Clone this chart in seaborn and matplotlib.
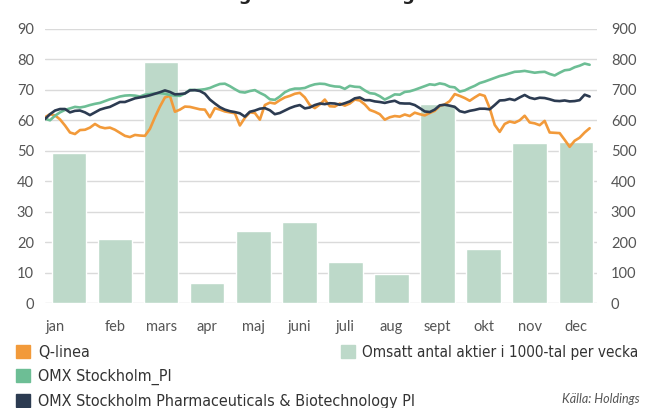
import numpy as np
import matplotlib.pyplot as plt
import seaborn as sns
from matplotlib.patches import Patch

# months and weekly turnover (1000-tal aktier)
months = ['jan', 'feb', 'mars', 'apr', 'maj', 'juni', 'juli', 'aug', 'sept', 'okt', 'nov', 'dec']
volume = [492, 211, 792, 68, 237, 268, 135, 95, 652, 178, 526, 530]

# index series, sampled evenly across the year (left axis)
q_linea = [61.0, 62.0, 61.6, 60.3, 58.3, 56.0, 55.5, 56.8, 56.9, 57.6,
           58.8, 57.8, 57.4, 57.6, 56.9, 55.9, 54.9, 54.5, 55.2, 55.0,
           54.9, 57.2, 61.0, 64.5, 67.5, 68.0, 62.8, 63.5, 64.5, 64.4,
           64.0, 63.6, 63.5, 61.0, 64.0, 63.5, 62.9, 62.6, 62.3, 58.3,
           60.8, 62.6, 62.4, 60.2, 65.0, 65.8, 65.5, 66.6, 67.5, 68.0,
           68.7, 69.0, 67.5, 65.0, 64.0, 65.2, 66.8, 64.6, 64.5, 65.5,
           64.8, 65.5, 66.8, 66.5, 65.2, 63.4, 62.8, 62.0, 60.2, 61.0,
           61.4, 61.2, 61.9, 61.4, 62.5, 62.0, 61.6, 62.4, 63.1, 64.7,
           65.2, 66.3, 68.6, 68.0, 67.3, 66.4, 67.5, 68.5, 68.0, 64.0,
           58.5, 56.2, 58.8, 59.6, 59.2, 60.0, 61.5, 59.3, 59.0, 58.4,
           59.8, 56.0, 55.9, 55.8, 53.6, 51.3, 53.3, 54.3, 56.0, 57.4]

omx_pi = [60.5, 60.0, 61.5, 62.6, 63.4, 63.9, 64.4, 64.2, 64.5, 65.0,
          65.4, 65.7, 66.3, 66.9, 67.3, 67.8, 68.1, 68.2, 68.1, 67.8,
          68.4, 68.6, 68.8, 68.9, 68.7, 68.3, 68.1, 68.0, 68.8, 70.0,
          69.9, 70.0, 70.2, 70.6, 71.3, 71.9, 72.0, 71.2, 70.2, 69.3,
          69.1, 69.6, 69.9, 69.0, 68.2, 66.9, 66.7, 67.8, 69.2, 70.0,
          70.4, 70.4, 70.6, 71.3, 71.8, 72.0, 71.9, 71.4, 71.1, 71.0,
          70.3, 71.3, 71.0, 70.9, 69.8, 68.9, 68.7, 67.9, 66.8, 67.6,
          68.5, 68.4, 69.3, 69.5, 70.0, 70.6, 71.2, 71.8, 71.6, 72.1,
          71.8, 71.0, 70.8, 69.4, 69.8, 70.6, 71.3, 72.2, 72.7, 73.3,
          73.9, 74.5, 74.9, 75.4, 75.9, 76.0, 76.2, 75.9, 75.6, 75.8,
          75.9, 75.2, 74.7, 75.6, 76.4, 76.6, 77.4, 77.9, 78.6, 78.2]

omx_pharma = [60.4, 62.0, 63.2, 63.7, 63.7, 62.6, 63.1, 63.2, 62.6, 61.7,
              62.6, 63.5, 64.0, 64.4, 65.2, 66.0, 66.0, 66.6, 67.2, 67.5,
              67.8, 68.2, 68.7, 69.2, 69.8, 69.3, 68.5, 68.6, 68.8, 69.8,
              69.9, 69.6, 68.7, 66.8, 65.5, 64.3, 63.5, 63.0, 62.7, 62.3,
              61.2, 62.8, 63.2, 63.8, 64.0, 63.3, 62.0, 62.4, 63.2, 64.0,
              64.6, 65.0, 63.9, 64.2, 65.0, 65.5, 65.3, 65.6, 65.5, 65.1,
              65.6, 66.2, 67.2, 67.5, 66.6, 66.6, 66.2, 66.0, 65.7, 66.1,
              66.4, 65.6, 65.5, 65.5, 65.0, 64.0, 62.9, 62.7, 63.5, 64.9,
              65.1, 64.8, 64.4, 63.0, 62.6, 63.1, 63.4, 63.8, 63.8, 63.6,
              65.0, 66.5, 66.6, 67.0, 66.6, 67.5, 68.3, 67.4, 67.0, 67.4,
              67.3, 66.9, 66.4, 66.3, 66.5, 66.2, 66.3, 66.6, 68.4, 67.8]

c_bar = '#bdd9c9'
c_q = '#f29a3a'
c_pi = '#6dbe95'
c_pharma = '#2c3b51'
c_text = '#555555'

sns.set_theme(style='white')
plt.rcParams['font.family'] = ['Lato', 'DejaVu Sans']

fig = plt.figure(figsize=(6.46, 4.08), dpi=100)
ax = fig.add_axes([45 / 646, 1 - 303.3 / 408, 552 / 646, 274.5 / 408])

# bars (right axis scale)
sns.barplot(x=months, y=volume, color=c_bar, saturation=1, width=0.75, ax=ax)
ax.set_ylim(0, 900)
ax.set_yticks(range(0, 1000, 100))
ax.set_xlim(-0.52, 11.46)
ax.grid(axis='y', color='#dadada', lw=1)
ax.grid(axis='x', visible=False)
ax.set_axisbelow(True)

# lines (left axis scale)
ax2 = ax.twinx()
days = np.linspace(-0.52, 11.30, len(q_linea))
sns.lineplot(x=days, y=q_linea, ax=ax2, color=c_q, lw=1.9)
sns.lineplot(x=days, y=omx_pi, ax=ax2, color=c_pi, lw=1.9)
sns.lineplot(x=days, y=omx_pharma, ax=ax2, color=c_pharma, lw=1.9)
ax2.set_ylim(0, 90)
ax2.set_yticks(range(0, 100, 10))
ax2.grid(False)

ax.yaxis.tick_right()
ax2.yaxis.tick_left()
ax.set_xlabel('')
ax.set_ylabel('')
ax2.set_ylabel('')

ax.set_xticks([-0.3] + list(range(1, 12)), months)
ax.tick_params(axis='x', length=0, pad=12, labelsize=10.5, labelcolor=c_text)
ax.tick_params(axis='y', length=0, pad=10, labelsize=10.5, labelcolor=c_text)
ax2.tick_params(axis='y', length=0, pad=8, labelsize=10.5, labelcolor=c_text)
for a in (ax, ax2):
    for s in a.spines.values():
        s.set_visible(False)

# title, cut at the top edge as in the source
fig.text(100 / 646, 1.0, 'Kursutveckling och omsättning', fontsize=13.0,
         fontweight='bold', color='#222222', va='baseline', ha='left',
         family='DejaVu Sans')

legend_prop = {'family': 'DejaVu Sans', 'stretch': 'condensed', 'size': 11.5}
left_handles = [Patch(color=c_q, label='Q-linea'),
                Patch(color=c_pi, label='OMX Stockholm_PI'),
                Patch(color=c_pharma, label='OMX Stockholm Pharmaceuticals & Biotechnology PI')]
fig.legend(handles=left_handles, loc='upper left', bbox_to_anchor=(16 / 646, 1 - 345 / 408),
           frameon=False, borderpad=0, borderaxespad=0, handlelength=0.85, handleheight=0.85,
           handletextpad=0.55, labelspacing=0.55, prop=legend_prop,
           labelcolor='#333333')
fig.legend(handles=[Patch(color=c_bar, label='Omsatt antal aktier i 1000-tal per vecka')],
           loc='upper left', bbox_to_anchor=(341 / 646, 1 - 345 / 408),
           frameon=False, borderpad=0, borderaxespad=0, handlelength=0.9, handleheight=0.9,
           handletextpad=0.5, prop={'family': 'DejaVu Sans', 'stretch': 'condensed', 'size': 11.0},
           labelcolor='#333333')

fig.text(640 / 646, 3 / 408, 'Källa: Holdings', ha='right', va='bottom', fontsize=9,
         style='italic', color=c_text)

fig.savefig('out.png', dpi=100)
